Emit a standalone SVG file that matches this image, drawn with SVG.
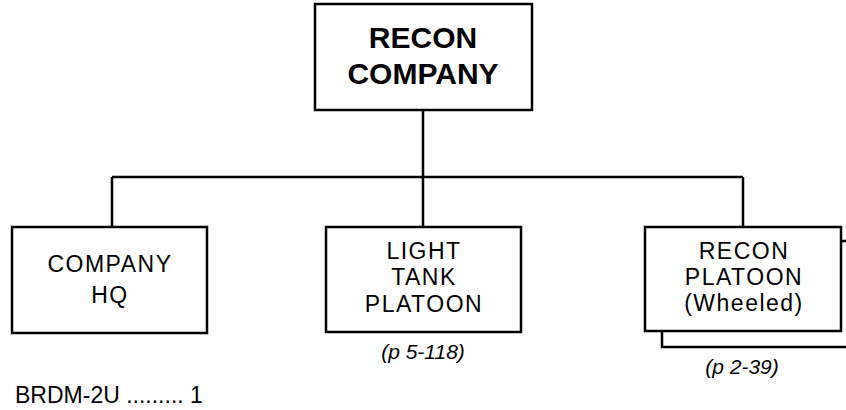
<svg xmlns="http://www.w3.org/2000/svg" width="846" height="410" viewBox="0 0 846 410">
<style>
.box{fill:#fff;stroke:#000;stroke-width:2.5}
.ln{fill:none;stroke:#000;stroke-width:2.5}
text{font-family:"Liberation Sans",Arial,sans-serif;fill:#000;text-anchor:middle}
.t{font-size:23px;letter-spacing:1.5px}
.b{font-size:30px;font-weight:bold}
.p{font-size:21px;font-style:italic}
</style>
<rect width="846" height="410" fill="#fff"/>
<g id="connectors">
<path class="ln" d="M423 110V177M112 177H743M112 177V227M423 177V227M743 177V227"/>
</g>
<g id="recon-company">
<rect class="box" x="315" y="4" width="217" height="106"/>
<text class="b" x="423" y="48">RECON</text>
<text class="b" x="423" y="84">COMPANY</text>
</g>
<g id="company-hq">
<rect class="box" x="12" y="227" width="195" height="106"/>
<text class="t" x="110" y="272">COMPANY</text>
<text class="t" x="110" y="303">HQ</text>
<text x="15" y="403" style="font-size:23px;text-anchor:start">BRDM-2U ......... 1</text>
</g>
<g id="light-tank-platoon">
<rect class="box" x="326" y="227" width="195" height="105"/>
<text class="t" x="424" y="259">LIGHT</text>
<text class="t" x="424" y="285">TANK</text>
<text class="t" x="424" y="312">PLATOON</text>
<text class="p" x="423" y="359">(p 5-118)</text>
</g>
<g id="recon-platoon">
<rect class="box" x="662" y="241" width="200" height="106"/>
<rect class="box" x="645" y="227" width="196" height="104"/>
<text class="t" x="744" y="259">RECON</text>
<text class="t" x="744" y="285">PLATOON</text>
<text class="t" x="744" y="311">(Wheeled)</text>
<text class="p" x="742" y="374">(p 2-39)</text>
</g>
</svg>
